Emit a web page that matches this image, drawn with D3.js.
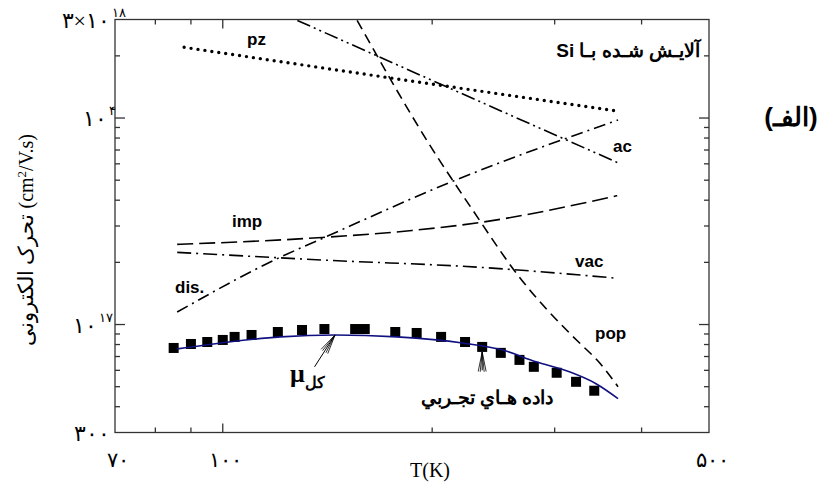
<!DOCTYPE html>
<html>
<head>
<meta charset="utf-8">
<script src="https://cdn.jsdelivr.net/npm/d3@7"></script>
<style>
body{margin:0;background:#fff}
</style>
</head>
<body>
<svg></svg>
<script>
// measured points (squares)
var tempExp = [85, 90, 95, 100, 104, 110, 120, 130, 140, 155, 160, 177, 190, 206, 223, 236, 251, 267, 280, 302, 322, 342];
var muExp = [770, 805, 823, 842, 871, 890, 920, 941, 951, 951, 951, 920, 910, 871, 823, 779, 729, 674, 624, 584, 528, 478];

// total mobility
var tempTot = [86, 102, 121, 145, 178, 221, 252, 282, 315, 344, 370];
var muTot = [762, 823, 871, 890, 871, 814, 754, 660, 590, 517, 438];

// scattering components
var tempPz = [88, 200, 370];
var muPz = [22000, 14600, 10800];
var tempAc = [128, 221, 370];
var muAc = [29700, 13100, 6070];
var tempPop = [156, 200, 228, 267, 315, 328, 347, 370];
var muPop = [29700, 7090, 3640, 1694, 910, 796, 660, 500];
var tempImp = [86, 139, 187, 234, 369];
var muImp = [2443, 2640, 2853, 3119, 4207];
var tempVac = [86, 142, 234, 369];
var muVac = [2236, 2046, 1893, 1675];
var tempDis = [86, 120, 139, 215, 370];
var muDis = [1149, 2091, 2611, 4970, 9780];

// ticks
var xMinor = [80, 90, 200, 300, 400];
var xMajor = [100];
var yMinor = [400, 500, 600, 700, 800, 900, 2000, 3000, 4000, 5000, 6000, 7000, 8000, 9000, 20000];
var yMajor = [1000, 10000];
var xLabels = [{v:70, t:"۷۰"}, {v:100, t:"۱۰۰"}, {v:500, t:"۵۰۰"}];
var yLabels = [{v:30000, t:"۳×۱۰", s:"۱۸"}, {v:10000, t:"۱۰", s:"۴"}, {v:1000, t:"۱۰", s:"۱۷"}, {v:300, t:"۳۰۰", s:""}];

var box = {left:115, right:709, top:19.5, bottom:432.5};

var svg = d3.select("svg")
    .attr("width", 826)
    .attr("height", 484);

var xScale = d3.scaleLog()
    .domain([70, 500])
    .range([box.left, box.right]);

var yScale = d3.scaleLog()
    .domain([300, 30000])
    .range([box.bottom, box.top]);

svg.append("clipPath").attr("id", "plot")
    .append("rect")
    .attr("x", box.left).attr("y", box.top)
    .attr("width", box.right - box.left)
    .attr("height", box.bottom - box.top);

var line = d3.line()
    .x(function(d){ return xScale(d[0]); })
    .y(function(d){ return yScale(d[1]); })
    .curve(d3.curveMonotoneX);

var drawCurve = function(temps, mus, dash, color, width){
    return svg.append("path")
    .datum(d3.zip(temps, mus))
    .attr("d", line)
    .attr("clip-path", "url(#plot)")
    .attr("fill", "none")
    .attr("stroke", color)
    .attr("stroke-width", width)
    .attr("stroke-dasharray", dash);
}

drawCurve(tempPop, muPop, "10,6", "#000", 1.6);
drawCurve(tempImp, muImp, "16,6", "#000", 1.6);
drawCurve(tempVac, muVac, "14,5,2,5", "#000", 1.6);
drawCurve(tempDis, muDis, "12,5,2,5", "#000", 1.6);
drawCurve(tempAc, muAc, "14,4,2,4,2,4", "#000", 1.6);
drawCurve(tempPz, muPz, "0,7", "#000", 3.4).attr("stroke-linecap", "round");

// squares
svg.selectAll("rect.exp")
    .data(d3.zip(tempExp, muExp))
    .enter()
    .append("rect")
    .attr("class", "exp")
    .attr("x", function(d){ return xScale(d[0]) - 5; })
    .attr("y", function(d){ return yScale(d[1]) - 5; })
    .attr("width", 10)
    .attr("height", 10)
    .attr("fill", "#000");

drawCurve(tempTot, muTot, null, "#101080", 1.6);

// frame and ticks
svg.append("rect")
    .attr("x", box.left).attr("y", box.top)
    .attr("width", box.right - box.left)
    .attr("height", box.bottom - box.top)
    .attr("fill", "none")
    .attr("stroke", "#333")
    .attr("stroke-width", 1.3);

var xTick = function(vals, len){
    vals.forEach(function(v){
        svg.append("line").attr("x1", xScale(v)).attr("x2", xScale(v))
        .attr("y1", box.bottom).attr("y2", box.bottom - len)
        .attr("stroke", "#333").attr("stroke-width", 1.3);
        svg.append("line").attr("x1", xScale(v)).attr("x2", xScale(v))
        .attr("y1", box.top).attr("y2", box.top + len)
        .attr("stroke", "#333").attr("stroke-width", 1.3);
    })
}
var yTick = function(vals, len){
    vals.forEach(function(v){
        svg.append("line").attr("y1", yScale(v)).attr("y2", yScale(v))
        .attr("x1", box.left).attr("x2", box.left + len)
        .attr("stroke", "#333").attr("stroke-width", 1.3);
        svg.append("line").attr("y1", yScale(v)).attr("y2", yScale(v))
        .attr("x1", box.right).attr("x2", box.right - len)
        .attr("stroke", "#333").attr("stroke-width", 1.3);
    })
}
xTick(xMinor, 5);
xTick(xMajor, 9);
yTick(yMinor, 5);
yTick(yMajor, 10);

// tick labels
var serif = "'Liberation Serif','DejaVu Serif',serif";
svg.selectAll("text.xl")
    .data(xLabels)
    .enter()
    .append("text")
    .attr("x", function(d){ return xScale(d.v) + 3; })
    .attr("y", 467)
    .attr("text-anchor", "middle")
    .attr("font-family", serif)
    .attr("font-size", 21)
    .text(function(d){ return d.t; });

yLabels.forEach(function(d){
    var yy = yScale(d.v);
    var endX = d.s == "" ? 110 : (d.t.length > 2 ? 110 : (d.s.length > 1 ? 97 : 107));
    svg.append("text")
    .attr("x", endX).attr("y", yy + 8)
    .attr("text-anchor", "end")
    .attr("font-family", serif)
    .attr("font-size", 22)
    .text(d.t);
    if (d.s != "") {
        svg.append("text")
        .attr("x", endX + 2).attr("y", yy - 3)
        .attr("font-family", serif)
        .attr("font-size", 13)
        .text(d.s);
    }
});

// axis titles
svg.append("text")
    .attr("x", 430).attr("y", 477)
    .attr("text-anchor", "middle")
    .attr("font-family", serif)
    .attr("font-size", 20)
    .text("T(K)");

var yTitle = svg.append("text")
    .attr("transform", "translate(33,240) rotate(-90)")
    .attr("text-anchor", "middle")
    .attr("font-family", serif)
    .attr("font-size", 20);
yTitle.append("tspan").attr("font-size", 21).text("تحرک الکترونی ");
yTitle.append("tspan").text("(cm");
yTitle.append("tspan").attr("dy", -7).attr("font-size", 13).text("2");
yTitle.append("tspan").attr("dy", 7).text("/V.s)");

// curve labels
var sans = "'Liberation Sans',Arial,sans-serif";
var label = function(x, y, t, size){
    return svg.append("text")
    .attr("x", x).attr("y", y)
    .attr("font-family", sans)
    .attr("font-weight", "bold")
    .attr("font-size", size)
    .text(t);
}
label(247, 45, "pz", 17);
label(613, 152, "ac", 17);
label(232, 227, "imp", 17);
label(175, 293, "dis.", 17);
label(575, 267, "vac", 17);
label(595, 339, "pop", 17);

label(700, 57, "آلایـش شـده بـا Si", 19)
    .attr("direction", "rtl")
    .attr("text-anchor", "start");
label(487, 404, "داده هـاي تجـربي", 19)
    .attr("text-anchor", "middle");
label(791, 126, "(الفـ)", 26)
    .attr("direction", "rtl")
    .attr("text-anchor", "middle");

svg.append("text")
    .attr("x", 290).attr("y", 382)
    .attr("font-family", serif)
    .attr("font-weight", "bold")
    .attr("font-size", 26)
    .text("μ");
label(305, 388, "کل", 16);

// arrows
var arrow = function(tipT, tipMu, tailT, tailMu, dy){
    var x1 = xScale(tipT), y1 = yScale(tipMu) + dy;
    var x2 = xScale(tailT), y2 = yScale(tailMu);
    var ang = Math.atan2(y2 - y1, x2 - x1);
    svg.append("line").attr("x1", x1).attr("y1", y1).attr("x2", x2).attr("y2", y2)
        .attr("stroke", "#000").attr("stroke-width", 1);
    [-0.2, -0.1, 0.1, 0.2].forEach(function(a){
        svg.append("line").attr("x1", x1).attr("y1", y1)
        .attr("x2", x1 + 20 * Math.cos(ang + a))
        .attr("y2", y1 + 20 * Math.sin(ang + a))
        .attr("stroke", "#000").attr("stroke-width", 0.8);
    })
}
arrow(145, 890, 135.5, 624, 0);
arrow(236, 779, 236, 600, 5);
</script>
</body>
</html>
